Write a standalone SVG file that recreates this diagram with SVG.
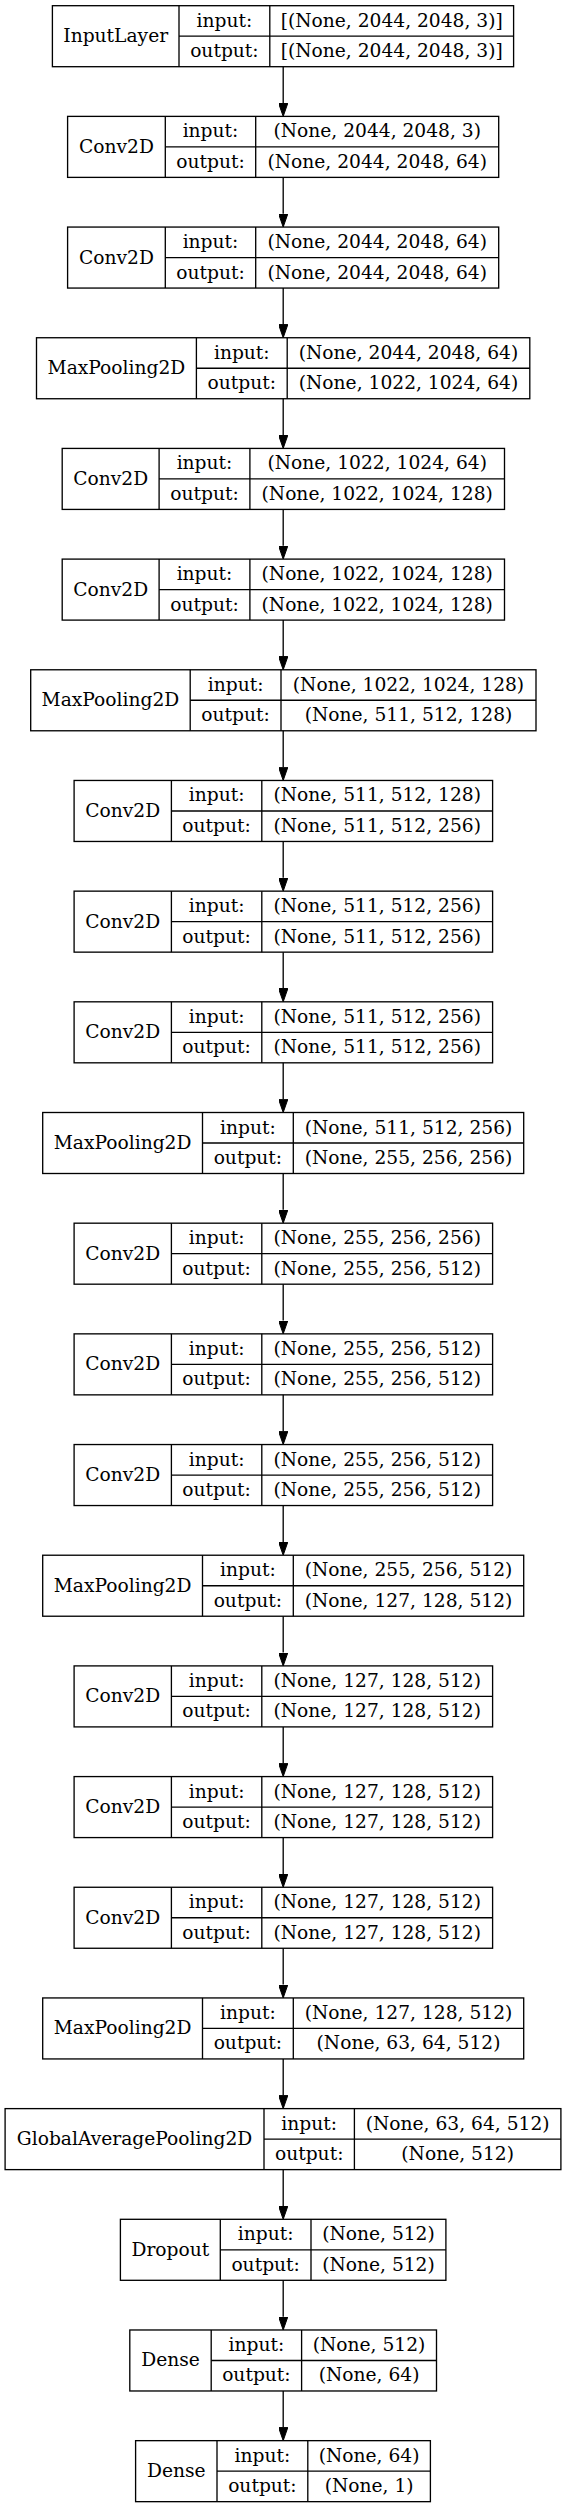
<svg xmlns="http://www.w3.org/2000/svg" width="567" height="2508" viewBox="0 0 567 2508" font-family="'DejaVu Serif', serif">
<style>
rect.b{fill:none;stroke:#000;stroke-width:1.33}
line.s{stroke:#000;stroke-width:1.33}
text{font-family:'DejaVu Serif',serif;font-size:18.67px;fill:#000;text-anchor:middle}
.e line{stroke:#000;stroke-width:1.33}
</style>
<defs>
<marker id="ah" viewBox="0 0 13.33 9.34" refX="0" refY="4.67" markerWidth="13.33" markerHeight="9.34" markerUnits="userSpaceOnUse" orient="auto">
<path d="M0,0 L13.33,4.67 L0,9.34 z" fill="#000" stroke="#000" stroke-width="1"/>
</marker>
</defs>
<rect width="567" height="2508" fill="#fff"/>

<g id="edges" class="e">
<line x1="283.2" y1="66.70" x2="283.2" y2="103.05" marker-end="url(#ah)"/>
<line x1="283.2" y1="177.38" x2="283.2" y2="213.73" marker-end="url(#ah)"/>
<line x1="283.2" y1="288.06" x2="283.2" y2="324.41" marker-end="url(#ah)"/>
<line x1="283.2" y1="398.74" x2="283.2" y2="435.09" marker-end="url(#ah)"/>
<line x1="283.2" y1="509.42" x2="283.2" y2="545.77" marker-end="url(#ah)"/>
<line x1="283.2" y1="620.10" x2="283.2" y2="656.45" marker-end="url(#ah)"/>
<line x1="283.2" y1="730.78" x2="283.2" y2="767.13" marker-end="url(#ah)"/>
<line x1="283.2" y1="841.46" x2="283.2" y2="877.81" marker-end="url(#ah)"/>
<line x1="283.2" y1="952.14" x2="283.2" y2="988.49" marker-end="url(#ah)"/>
<line x1="283.2" y1="1062.82" x2="283.2" y2="1099.17" marker-end="url(#ah)"/>
<line x1="283.2" y1="1173.50" x2="283.2" y2="1209.85" marker-end="url(#ah)"/>
<line x1="283.2" y1="1284.18" x2="283.2" y2="1320.53" marker-end="url(#ah)"/>
<line x1="283.2" y1="1394.86" x2="283.2" y2="1431.21" marker-end="url(#ah)"/>
<line x1="283.2" y1="1505.54" x2="283.2" y2="1541.89" marker-end="url(#ah)"/>
<line x1="283.2" y1="1616.22" x2="283.2" y2="1652.57" marker-end="url(#ah)"/>
<line x1="283.2" y1="1726.90" x2="283.2" y2="1763.25" marker-end="url(#ah)"/>
<line x1="283.2" y1="1837.58" x2="283.2" y2="1873.93" marker-end="url(#ah)"/>
<line x1="283.2" y1="1948.26" x2="283.2" y2="1984.61" marker-end="url(#ah)"/>
<line x1="283.2" y1="2058.94" x2="283.2" y2="2095.29" marker-end="url(#ah)"/>
<line x1="283.2" y1="2169.62" x2="283.2" y2="2205.97" marker-end="url(#ah)"/>
<line x1="283.2" y1="2280.30" x2="283.2" y2="2316.65" marker-end="url(#ah)"/>
<line x1="283.2" y1="2390.98" x2="283.2" y2="2427.33" marker-end="url(#ah)"/>
</g>

<g id="n0" transform="translate(0,5.70)">
<rect class="b" x="52.4" y="0" width="461.2" height="61"/>
<line class="s" x1="179" y1="0" x2="179" y2="61"/><line class="s" x1="269.8" y1="0" x2="269.8" y2="61"/><line class="s" x1="179" y1="30.5" x2="513.6" y2="30.5"/>
<text x="115.7" y="36.5">InputLayer</text><text x="224.4" y="21">input:</text><text x="224.4" y="51.5">output:</text>
<text x="391.7" y="21">[(None, 2044, 2048, 3)]</text><text x="391.7" y="51.5">[(None, 2044, 2048, 3)]</text>
</g>

<g id="n1" transform="translate(0,116.38)">
<rect class="b" x="67.6" y="0" width="431.1" height="61"/>
<line class="s" x1="165.3" y1="0" x2="165.3" y2="61"/><line class="s" x1="255.7" y1="0" x2="255.7" y2="61"/><line class="s" x1="165.3" y1="30.5" x2="498.7" y2="30.5"/>
<text x="116.45" y="36.5">Conv2D</text><text x="210.5" y="21">input:</text><text x="210.5" y="51.5">output:</text>
<text x="377.2" y="21">(None, 2044, 2048, 3)</text><text x="377.2" y="51.5">(None, 2044, 2048, 64)</text>
</g>

<g id="n2" transform="translate(0,227.06)">
<rect class="b" x="67.6" y="0" width="431.1" height="61"/>
<line class="s" x1="165.3" y1="0" x2="165.3" y2="61"/><line class="s" x1="255.7" y1="0" x2="255.7" y2="61"/><line class="s" x1="165.3" y1="30.5" x2="498.7" y2="30.5"/>
<text x="116.45" y="36.5">Conv2D</text><text x="210.5" y="21">input:</text><text x="210.5" y="51.5">output:</text>
<text x="377.2" y="21">(None, 2044, 2048, 64)</text><text x="377.2" y="51.5">(None, 2044, 2048, 64)</text>
</g>

<g id="n3" transform="translate(0,337.74)">
<rect class="b" x="36.5" y="0" width="493.3" height="61"/>
<line class="s" x1="196.4" y1="0" x2="196.4" y2="61"/><line class="s" x1="287.2" y1="0" x2="287.2" y2="61"/><line class="s" x1="196.4" y1="30.5" x2="529.8" y2="30.5"/>
<text x="116.45" y="36.5">MaxPooling2D</text><text x="241.8" y="21">input:</text><text x="241.8" y="51.5">output:</text>
<text x="408.5" y="21">(None, 2044, 2048, 64)</text><text x="408.5" y="51.5">(None, 1022, 1024, 64)</text>
</g>

<g id="n4" transform="translate(0,448.42)">
<rect class="b" x="62.2" y="0" width="442.3" height="61"/>
<line class="s" x1="159.1" y1="0" x2="159.1" y2="61"/><line class="s" x1="249.9" y1="0" x2="249.9" y2="61"/><line class="s" x1="159.1" y1="30.5" x2="504.5" y2="30.5"/>
<text x="110.65" y="36.5">Conv2D</text><text x="204.5" y="21">input:</text><text x="204.5" y="51.5">output:</text>
<text x="377.2" y="21">(None, 1022, 1024, 64)</text><text x="377.2" y="51.5">(None, 1022, 1024, 128)</text>
</g>

<g id="n5" transform="translate(0,559.10)">
<rect class="b" x="62.2" y="0" width="442.3" height="61"/>
<line class="s" x1="159.1" y1="0" x2="159.1" y2="61"/><line class="s" x1="249.9" y1="0" x2="249.9" y2="61"/><line class="s" x1="159.1" y1="30.5" x2="504.5" y2="30.5"/>
<text x="110.65" y="36.5">Conv2D</text><text x="204.5" y="21">input:</text><text x="204.5" y="51.5">output:</text>
<text x="377.2" y="21">(None, 1022, 1024, 128)</text><text x="377.2" y="51.5">(None, 1022, 1024, 128)</text>
</g>

<g id="n6" transform="translate(0,669.78)">
<rect class="b" x="30.7" y="0" width="505.3" height="61"/>
<line class="s" x1="190.2" y1="0" x2="190.2" y2="61"/><line class="s" x1="281" y1="0" x2="281" y2="61"/><line class="s" x1="190.2" y1="30.5" x2="536" y2="30.5"/>
<text x="110.45" y="36.5">MaxPooling2D</text><text x="235.6" y="21">input:</text><text x="235.6" y="51.5">output:</text>
<text x="408.5" y="21">(None, 1022, 1024, 128)</text><text x="408.5" y="51.5">(None, 511, 512, 128)</text>
</g>

<g id="n7" transform="translate(0,780.46)">
<rect class="b" x="74.1" y="0" width="418.5" height="61"/>
<line class="s" x1="171.4" y1="0" x2="171.4" y2="61"/><line class="s" x1="261.8" y1="0" x2="261.8" y2="61"/><line class="s" x1="171.4" y1="30.5" x2="492.6" y2="30.5"/>
<text x="122.75" y="36.5">Conv2D</text><text x="216.6" y="21">input:</text><text x="216.6" y="51.5">output:</text>
<text x="377.2" y="21">(None, 511, 512, 128)</text><text x="377.2" y="51.5">(None, 511, 512, 256)</text>
</g>

<g id="n8" transform="translate(0,891.14)">
<rect class="b" x="74.1" y="0" width="418.5" height="61"/>
<line class="s" x1="171.4" y1="0" x2="171.4" y2="61"/><line class="s" x1="261.8" y1="0" x2="261.8" y2="61"/><line class="s" x1="171.4" y1="30.5" x2="492.6" y2="30.5"/>
<text x="122.75" y="36.5">Conv2D</text><text x="216.6" y="21">input:</text><text x="216.6" y="51.5">output:</text>
<text x="377.2" y="21">(None, 511, 512, 256)</text><text x="377.2" y="51.5">(None, 511, 512, 256)</text>
</g>

<g id="n9" transform="translate(0,1001.82)">
<rect class="b" x="74.1" y="0" width="418.5" height="61"/>
<line class="s" x1="171.4" y1="0" x2="171.4" y2="61"/><line class="s" x1="261.8" y1="0" x2="261.8" y2="61"/><line class="s" x1="171.4" y1="30.5" x2="492.6" y2="30.5"/>
<text x="122.75" y="36.5">Conv2D</text><text x="216.6" y="21">input:</text><text x="216.6" y="51.5">output:</text>
<text x="377.2" y="21">(None, 511, 512, 256)</text><text x="377.2" y="51.5">(None, 511, 512, 256)</text>
</g>

<g id="n10" transform="translate(0,1112.50)">
<rect class="b" x="42.7" y="0" width="481" height="61"/>
<line class="s" x1="202.5" y1="0" x2="202.5" y2="61"/><line class="s" x1="293.3" y1="0" x2="293.3" y2="61"/><line class="s" x1="202.5" y1="30.5" x2="523.7" y2="30.5"/>
<text x="122.6" y="36.5">MaxPooling2D</text><text x="247.9" y="21">input:</text><text x="247.9" y="51.5">output:</text>
<text x="408.5" y="21">(None, 511, 512, 256)</text><text x="408.5" y="51.5">(None, 255, 256, 256)</text>
</g>

<g id="n11" transform="translate(0,1223.18)">
<rect class="b" x="74.1" y="0" width="418.5" height="61"/>
<line class="s" x1="171.4" y1="0" x2="171.4" y2="61"/><line class="s" x1="261.8" y1="0" x2="261.8" y2="61"/><line class="s" x1="171.4" y1="30.5" x2="492.6" y2="30.5"/>
<text x="122.75" y="36.5">Conv2D</text><text x="216.6" y="21">input:</text><text x="216.6" y="51.5">output:</text>
<text x="377.2" y="21">(None, 255, 256, 256)</text><text x="377.2" y="51.5">(None, 255, 256, 512)</text>
</g>

<g id="n12" transform="translate(0,1333.86)">
<rect class="b" x="74.1" y="0" width="418.5" height="61"/>
<line class="s" x1="171.4" y1="0" x2="171.4" y2="61"/><line class="s" x1="261.8" y1="0" x2="261.8" y2="61"/><line class="s" x1="171.4" y1="30.5" x2="492.6" y2="30.5"/>
<text x="122.75" y="36.5">Conv2D</text><text x="216.6" y="21">input:</text><text x="216.6" y="51.5">output:</text>
<text x="377.2" y="21">(None, 255, 256, 512)</text><text x="377.2" y="51.5">(None, 255, 256, 512)</text>
</g>

<g id="n13" transform="translate(0,1444.54)">
<rect class="b" x="74.1" y="0" width="418.5" height="61"/>
<line class="s" x1="171.4" y1="0" x2="171.4" y2="61"/><line class="s" x1="261.8" y1="0" x2="261.8" y2="61"/><line class="s" x1="171.4" y1="30.5" x2="492.6" y2="30.5"/>
<text x="122.75" y="36.5">Conv2D</text><text x="216.6" y="21">input:</text><text x="216.6" y="51.5">output:</text>
<text x="377.2" y="21">(None, 255, 256, 512)</text><text x="377.2" y="51.5">(None, 255, 256, 512)</text>
</g>

<g id="n14" transform="translate(0,1555.22)">
<rect class="b" x="42.7" y="0" width="481" height="61"/>
<line class="s" x1="202.5" y1="0" x2="202.5" y2="61"/><line class="s" x1="293.3" y1="0" x2="293.3" y2="61"/><line class="s" x1="202.5" y1="30.5" x2="523.7" y2="30.5"/>
<text x="122.6" y="36.5">MaxPooling2D</text><text x="247.9" y="21">input:</text><text x="247.9" y="51.5">output:</text>
<text x="408.5" y="21">(None, 255, 256, 512)</text><text x="408.5" y="51.5">(None, 127, 128, 512)</text>
</g>

<g id="n15" transform="translate(0,1665.90)">
<rect class="b" x="74.1" y="0" width="418.5" height="61"/>
<line class="s" x1="171.4" y1="0" x2="171.4" y2="61"/><line class="s" x1="261.8" y1="0" x2="261.8" y2="61"/><line class="s" x1="171.4" y1="30.5" x2="492.6" y2="30.5"/>
<text x="122.75" y="36.5">Conv2D</text><text x="216.6" y="21">input:</text><text x="216.6" y="51.5">output:</text>
<text x="377.2" y="21">(None, 127, 128, 512)</text><text x="377.2" y="51.5">(None, 127, 128, 512)</text>
</g>

<g id="n16" transform="translate(0,1776.58)">
<rect class="b" x="74.1" y="0" width="418.5" height="61"/>
<line class="s" x1="171.4" y1="0" x2="171.4" y2="61"/><line class="s" x1="261.8" y1="0" x2="261.8" y2="61"/><line class="s" x1="171.4" y1="30.5" x2="492.6" y2="30.5"/>
<text x="122.75" y="36.5">Conv2D</text><text x="216.6" y="21">input:</text><text x="216.6" y="51.5">output:</text>
<text x="377.2" y="21">(None, 127, 128, 512)</text><text x="377.2" y="51.5">(None, 127, 128, 512)</text>
</g>

<g id="n17" transform="translate(0,1887.26)">
<rect class="b" x="74.1" y="0" width="418.5" height="61"/>
<line class="s" x1="171.4" y1="0" x2="171.4" y2="61"/><line class="s" x1="261.8" y1="0" x2="261.8" y2="61"/><line class="s" x1="171.4" y1="30.5" x2="492.6" y2="30.5"/>
<text x="122.75" y="36.5">Conv2D</text><text x="216.6" y="21">input:</text><text x="216.6" y="51.5">output:</text>
<text x="377.2" y="21">(None, 127, 128, 512)</text><text x="377.2" y="51.5">(None, 127, 128, 512)</text>
</g>

<g id="n18" transform="translate(0,1997.94)">
<rect class="b" x="42.7" y="0" width="481" height="61"/>
<line class="s" x1="202.5" y1="0" x2="202.5" y2="61"/><line class="s" x1="293.3" y1="0" x2="293.3" y2="61"/><line class="s" x1="202.5" y1="30.5" x2="523.7" y2="30.5"/>
<text x="122.6" y="36.5">MaxPooling2D</text><text x="247.9" y="21">input:</text><text x="247.9" y="51.5">output:</text>
<text x="408.5" y="21">(None, 127, 128, 512)</text><text x="408.5" y="51.5">(None, 63, 64, 512)</text>
</g>

<g id="n19" transform="translate(0,2108.62)">
<rect class="b" x="5.1" y="0" width="555.8" height="61"/>
<line class="s" x1="264" y1="0" x2="264" y2="61"/><line class="s" x1="354.4" y1="0" x2="354.4" y2="61"/><line class="s" x1="264" y1="30.5" x2="560.9" y2="30.5"/>
<text x="134.55" y="36.5">GlobalAveragePooling2D</text><text x="309.2" y="21">input:</text><text x="309.2" y="51.5">output:</text>
<text x="457.65" y="21">(None, 63, 64, 512)</text><text x="457.65" y="51.5">(None, 512)</text>
</g>

<g id="n20" transform="translate(0,2219.30)">
<rect class="b" x="120.4" y="0" width="325.5" height="61"/>
<line class="s" x1="220.3" y1="0" x2="220.3" y2="61"/><line class="s" x1="311" y1="0" x2="311" y2="61"/><line class="s" x1="220.3" y1="30.5" x2="445.9" y2="30.5"/>
<text x="170.35" y="36.5">Dropout</text><text x="265.65" y="21">input:</text><text x="265.65" y="51.5">output:</text>
<text x="378.45" y="21">(None, 512)</text><text x="378.45" y="51.5">(None, 512)</text>
</g>

<g id="n21" transform="translate(0,2329.98)">
<rect class="b" x="129.8" y="0" width="306.7" height="61"/>
<line class="s" x1="211.2" y1="0" x2="211.2" y2="61"/><line class="s" x1="301.6" y1="0" x2="301.6" y2="61"/><line class="s" x1="211.2" y1="30.5" x2="436.5" y2="30.5"/>
<text x="170.5" y="36.5">Dense</text><text x="256.4" y="21">input:</text><text x="256.4" y="51.5">output:</text>
<text x="369.05" y="21">(None, 512)</text><text x="369.05" y="51.5">(None, 64)</text>
</g>

<g id="n22" transform="translate(0,2440.66)">
<rect class="b" x="135.6" y="0" width="294.8" height="61"/>
<line class="s" x1="217" y1="0" x2="217" y2="61"/><line class="s" x1="307.8" y1="0" x2="307.8" y2="61"/><line class="s" x1="217" y1="30.5" x2="430.4" y2="30.5"/>
<text x="176.3" y="36.5">Dense</text><text x="262.4" y="21">input:</text><text x="262.4" y="51.5">output:</text>
<text x="369.1" y="21">(None, 64)</text><text x="369.1" y="51.5">(None, 1)</text>
</g>
</svg>
